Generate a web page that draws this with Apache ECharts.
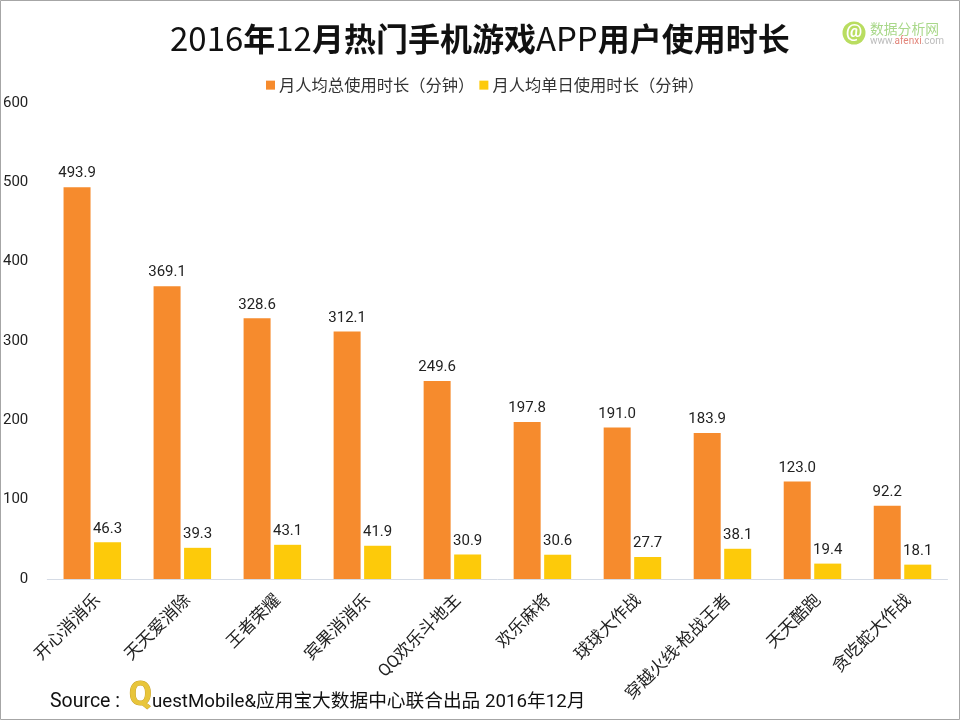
<!DOCTYPE html>
<html>
<head>
<meta charset="utf-8">
<style>
  html, body { margin: 0; padding: 0; background: #fff; }
  #chart { width: 960px; height: 720px; }
</style>
<script src="https://cdn.jsdelivr.net/npm/echarts@6/dist/echarts.min.js"></script>
</head>
<body>
<div id="chart"></div>
<script>
const FONT = 'Roboto, "Noto Sans CJK SC", sans-serif';
const CJK = '"Noto Sans CJK SC"';

const categories = ["开心消消乐", "天天爱消除", "王者荣耀", "宾果消消乐", "QQ欢乐斗地主", "欢乐麻将", "球球大作战", "穿越火线-枪战王者", "天天酷跑", "贪吃蛇大作战"];
const monthlyTotal = [493.9, 369.1, 328.6, 312.1, 249.6, 197.8, 191.0, 183.9, 123.0, 92.2];
const dailyAverage = [46.3, 39.3, 43.1, 41.9, 30.9, 30.6, 27.7, 38.1, 19.4, 18.1];
const seriesNames = ["月人均总使用时长（分钟）", "月人均单日使用时长（分钟）"];

const chart = echarts.init(document.getElementById("chart"));

//柱子公共配置
const barSeries = (name, data, color) => ({
  name,
  type: "bar",
  data,
  barWidth: 27,
  barGap: "13%",
  itemStyle: { color },
  label: {
    show: true,
    position: "top",
    distance: 6,
    color: "#222",
    fontSize: 15,
    fontFamily: FONT,
    formatter: (p) => p.value.toFixed(1),
  },
});

chart.setOption({
  backgroundColor: "#fff",
  animation: false,
  textStyle: { fontFamily: FONT },
  title: {
    text: "{n|2016}{b|年}{n|12}{b|月热门手机游戏}{n|APP}{b|用户使用时长}",
    left: 165,
    top: 17,
    textStyle: {
      rich: {
        n: { fontSize: 33, fontWeight: "normal", color: "#111", fontFamily: CJK },
        b: { fontSize: 32, fontWeight: "bold", color: "#111", fontFamily: CJK },
      },
    },
  },
  legend: {
    top: 72,
    left: 261,
    icon: "rect",
    itemWidth: 9,
    itemHeight: 9,
    itemGap: 5,
    textStyle: { fontSize: 16.3, color: "#333", fontFamily: CJK, padding: [0, 0, 0, -1] },
    data: seriesNames,
  },
  grid: { left: 46.5, width: 901, top: 103, bottom: 141 },
  xAxis: {
    type: "category",
    data: categories,
    axisTick: { show: false },
    axisLine: { lineStyle: { color: "#d5dbe5", width: 1 } },
    axisLabel: {
      rotate: 45,
      interval: 0,
      margin: 13,
      verticalAlign: "top",
      fontSize: 17,
      color: "#222",
      fontFamily: FONT,
    },
  },
  yAxis: {
    type: "value",
    min: 0,
    max: 600,
    interval: 100,
    splitLine: { show: false },
    axisLine: { show: false },
    axisTick: { show: false },
    axisLabel: { margin: 19, fontSize: 15, color: "#222", fontFamily: FONT, padding: [3, 0, 0, 0] },
  },
  series: [
    barSeries(seriesNames[0], monthlyTotal, "#f68b2d"),
    barSeries(seriesNames[1], dailyAverage, "#fdca0a"),
  ],
  graphic: [
    //外边框
    { type: "rect", shape: { x: 0.5, y: 0.5, width: 959, height: 719 }, style: { fill: "none", stroke: "#a6a6a6", lineWidth: 1 }, silent: true },
    //logo
    { type: "circle", shape: { cx: 854, cy: 33, r: 11.5 }, style: { fill: "#b9dd60" }, silent: true },
    { type: "text", x: 854, y: 32, style: { text: "@", fill: "#fff", fontSize: 18, fontWeight: "bold", align: "center", verticalAlign: "middle", fontFamily: FONT }, silent: true },
    { type: "text", x: 870, y: 29, style: { text: "数据分析网", fill: "#a9d88a", fontSize: 13.8, verticalAlign: "middle", fontFamily: CJK }, silent: true },
    {
      type: "text",
      x: 870,
      y: 41.5,
      style: {
        text: "{g|www.}{r|afenxi}{g|.com}",
        verticalAlign: "middle",
        rich: {
          g: { fill: "#bbb", fontSize: 10, fontFamily: FONT },
          r: { fill: "#e2857a", fontSize: 10, fontFamily: FONT },
        },
      },
      silent: true,
    },
    //数据来源
    { type: "text", x: 50, y: 702, style: { text: "Source :", fill: "#111", fontSize: 19.5, verticalAlign: "middle", fontFamily: FONT }, silent: true },
    { type: "text", x: 129, y: 697, style: { text: "Q", fill: "#e8c53a", stroke: "#c9a227", lineWidth: 1, fontSize: 33, fontWeight: "bold", verticalAlign: "middle", fontFamily: FONT }, silent: true },
    { type: "text", x: 152, y: 702, style: { text: "uestMobile&应用宝大数据中心联合出品 2016年12月", fill: "#111", fontSize: 18.7, verticalAlign: "middle", fontFamily: FONT }, silent: true },
  ],
});
</script>
</body>
</html>
